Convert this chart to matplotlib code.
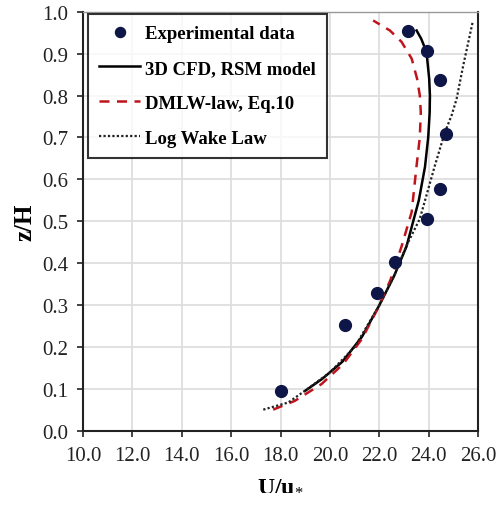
import matplotlib
matplotlib.use("Agg")
import matplotlib.pyplot as plt
import numpy as np

plt.rcParams['font.family'] = ['Liberation Serif', 'DejaVu Serif']
plt.rcParams['mathtext.fontset'] = 'custom'
plt.rcParams['mathtext.rm'] = 'Liberation Serif'
plt.rcParams['mathtext.bf'] = 'Liberation Serif:bold'

# Experimental data
exp_u = [18.02, 20.61, 21.89, 22.63, 23.95, 24.45, 24.70, 24.45, 23.95, 23.17]
exp_z = [0.096, 0.254, 0.329, 0.404, 0.506, 0.576, 0.709, 0.838, 0.905, 0.954]

# 3D CFD, RSM model
cfd_u = [19.0, 19.7, 20.5, 21.3, 22.0, 22.6, 23.1, 23.6, 23.85, 23.98, 24.04, 24.05, 24.02, 23.91, 23.70, 23.51]
cfd_z = [0.096, 0.125, 0.165, 0.225, 0.30, 0.37, 0.44, 0.55, 0.63, 0.70, 0.76, 0.80, 0.84, 0.904, 0.935, 0.955]

# DMLW-law, Eq.10
dmlw_u = [17.70, 18.58, 19.66, 20.54, 21.30, 21.96, 22.45, 22.90, 23.31, 23.51, 23.64, 23.68, 23.64, 23.53, 23.31, 22.90, 22.43, 21.75]
dmlw_z = [0.051, 0.072, 0.112, 0.160, 0.22, 0.295, 0.36, 0.44, 0.522, 0.633, 0.70, 0.76, 0.80, 0.840, 0.888, 0.928, 0.955, 0.979]

# Log Wake Law
lw_u = [17.30, 18.31, 18.99, 20.0, 21.0, 22.0, 22.6, 23.10, 23.64, 23.91, 24.25, 24.66, 24.93, 25.13, 25.40, 25.78]
lw_z = [0.051, 0.068, 0.096, 0.14, 0.20, 0.30, 0.37, 0.442, 0.506, 0.562, 0.633, 0.713, 0.753, 0.792, 0.872, 0.975]

x_ticks = [10.0, 12.0, 14.0, 16.0, 18.0, 20.0, 22.0, 24.0, 26.0]
y_ticks = [0.0, 0.1, 0.2, 0.3, 0.4, 0.5, 0.6, 0.7, 0.8, 0.9, 1.0]

fig = plt.figure(figsize=(4.98, 5.06), dpi=100)
ax = fig.add_axes([0.1667, 0.1462, 0.7933, 0.8288])

ax.plot(cfd_u, cfd_z, color='black', lw=1.8, label='3D CFD, RSM model', zorder=3)
ax.plot(dmlw_u, dmlw_z, color='#c0141c', lw=1.8, ls=(0, (4, 3)), label='DMLW-law, Eq.10', zorder=3)
ax.plot(lw_u, lw_z, color='#222222', lw=1.6, ls=(0, (1, 1)), label='Log Wake Law', zorder=3)
ax.plot(exp_u, exp_z, 'o', color='#0d1646', ms=8.5, label='Experimental data', zorder=4)

ax.set_xlim(10, 26)
ax.set_ylim(0, 1)
ax.set_xticks(x_ticks)
ax.set_yticks(y_ticks)
ax.set_xticklabels([f"{v:.1f}" for v in x_ticks])
ax.set_yticklabels([f"{v:.1f}" for v in y_ticks])
ax.tick_params(axis='both', direction='out', length=4.5, width=1.2, labelsize=15, colors='#222222')
ax.tick_params(axis='x', pad=6)
ax.tick_params(axis='y', pad=6)
ax.grid(True, color='#dedede', lw=1.3)
ax.set_axisbelow(True)

for s in ['left', 'bottom', 'right']:
    ax.spines[s].set_color('#222222')
    ax.spines[s].set_linewidth(1.5)
ax.spines['top'].set_color('#999999')
ax.spines['top'].set_linewidth(1.0)

ax.set_xlabel(r'U/u$_{*}$', fontsize=17, fontweight='bold', labelpad=6)
ax.set_ylabel('z/H', fontsize=18, fontweight='bold', labelpad=4)

h, l = ax.get_legend_handles_labels()
order = [3, 0, 1, 2]
leg = ax.legend([h[i] for i in order], [l[i] for i in order],
                loc='upper left', bbox_to_anchor=(0.013, 0.995),
                prop={'weight': 'bold', 'size': 13.5}, frameon=True, fancybox=False,
                edgecolor='black', handlelength=2.15, borderpad=0.6, labelspacing=0.95,
                handletextpad=0.3, borderaxespad=0.0, markerscale=0.85)
leg.get_frame().set_linewidth(1.5)

fig.savefig('out.png', dpi=100)
